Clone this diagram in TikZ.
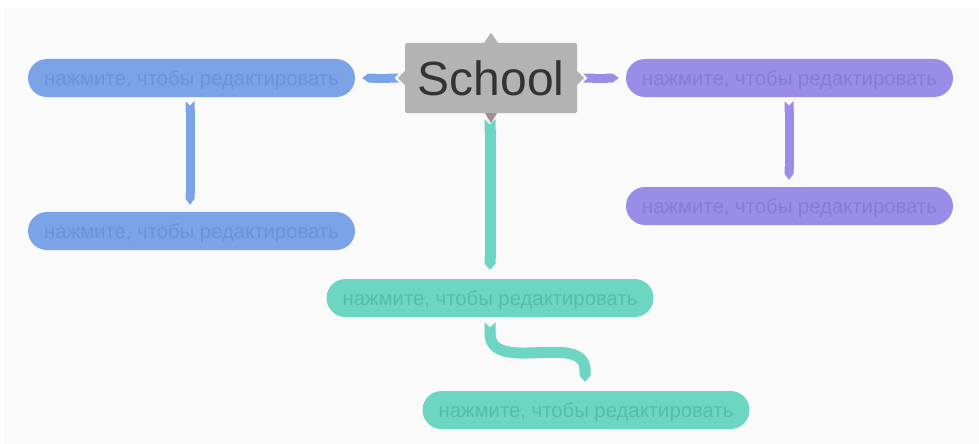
\documentclass[tikz,border=0pt]{standalone}
\usepackage{fontspec}
\setmainfont{Liberation Sans}
\usetikzlibrary{arrows.meta,calc}
\definecolor{bgc}{HTML}{FAFAFA}
\definecolor{schoolc}{HTML}{B3B3B3}
\definecolor{schooltxt}{HTML}{333333}
\definecolor{bluec}{HTML}{7BA4E8}
\definecolor{bluetxt}{HTML}{6A93D8}
\definecolor{purc}{HTML}{9A8DE8}
\definecolor{purtxt}{HTML}{877BD9}
\definecolor{tealc}{HTML}{6DD6C2}
\definecolor{tealtxt}{HTML}{57BCA8}
\tikzset{
  leaf/.style={rounded corners=19pt, minimum width=327pt, minimum height=38pt,
    inner sep=0pt, text depth=0pt, font=\fontsize{20.3}{20.3}\selectfont},
  blueleaf/.style={leaf, fill=bluec, text=bluetxt},
  purleaf/.style={leaf, fill=purc, text=purtxt},
  tealleaf/.style={leaf, fill=tealc, text=tealtxt},
  band/.style={line width=#1, {Triangle Cap[reversed]}-{Triangle Cap[length=6pt]}},
  band/.default=9pt,
}
\begin{document}
\begin{tikzpicture}[x=1pt,y=-1pt]
\useasboundingbox (0,0) rectangle (979,444);
\fill[white] (0,0) rectangle (979,444);
\fill[bgc] (4,8) rectangle (979,444);
% central node
\node[fill=schoolc, text=schooltxt, minimum width=172pt, minimum height=70pt,
  inner sep=0pt, rounded corners=1.5pt, font=\fontsize{48}{48}\selectfont] (school) at (491,78) {School};
\fill[schoolc] ($(school.north)+(-7,0)$) -- ($(school.north)+(0,-10)$) -- ($(school.north)+(7,0)$) -- cycle;
\fill[schoolc] ($(school.west)+(0,-7)$) -- ($(school.west)+(-7,0)$) -- ($(school.west)+(0,7)$) -- cycle;
\fill[schoolc] ($(school.east)+(0,-7)$) -- ($(school.east)+(7,0)$) -- ($(school.east)+(0,7)$) -- cycle;
% leaves
\node[blueleaf] (b1) at (191.5,78) {нажмите, чтобы редактировать};
\node[blueleaf] (b2) at (191.5,231) {нажмите, чтобы редактировать};
\node[purleaf] (p1) at (789.5,78) {нажмите, чтобы редактировать};
\node[purleaf] (p2) at (789.5,206) {нажмите, чтобы редактировать};
\node[tealleaf] (t1) at (490,298) {нажмите, чтобы редактировать};
\node[tealleaf] (t2) at (586,410) {нажмите, чтобы редактировать};
% connectors
\coordinate (sW) at ($(school.west)+(-6,0)$);
\coordinate (sE) at ($(school.east)+(6,0)$);
\coordinate (sS) at ($(school.south)+(-1,6)$);
\draw[bluec, band] (sW) -- ($(b1.east)+(7,0)$);
\draw[purc, band] (sE) -- ($(p1.west)+(-7,0)$);
\draw[tealc, band=11pt] (sS) -- ($(t1.north)+(0,-9)$);
\draw[bluec, band] ($(b1.south)+(-1.5,4)$) -- ($(b2.north)+(-1.5,-7)$);
\draw[purc, band] ($(p1.south)+(-0.5,4)$) -- ($(p2.north)+(-0.5,-7)$);
\draw[tealc, band=11pt] ($(t1.south)+(0,5)$) .. controls ($(t1.south)+(0,58)$) and ($(t2.north)+(-1,-60)$) .. ($(t2.north)+(-1,-9)$);
% school bottom triangle on top
\fill[schoolc!85!red!60!gray] ($(school.south)+(-6,0)$) -- ($(school.south)+(0,10)$) -- ($(school.south)+(6,0)$) -- cycle;
\end{tikzpicture}
\end{document}
